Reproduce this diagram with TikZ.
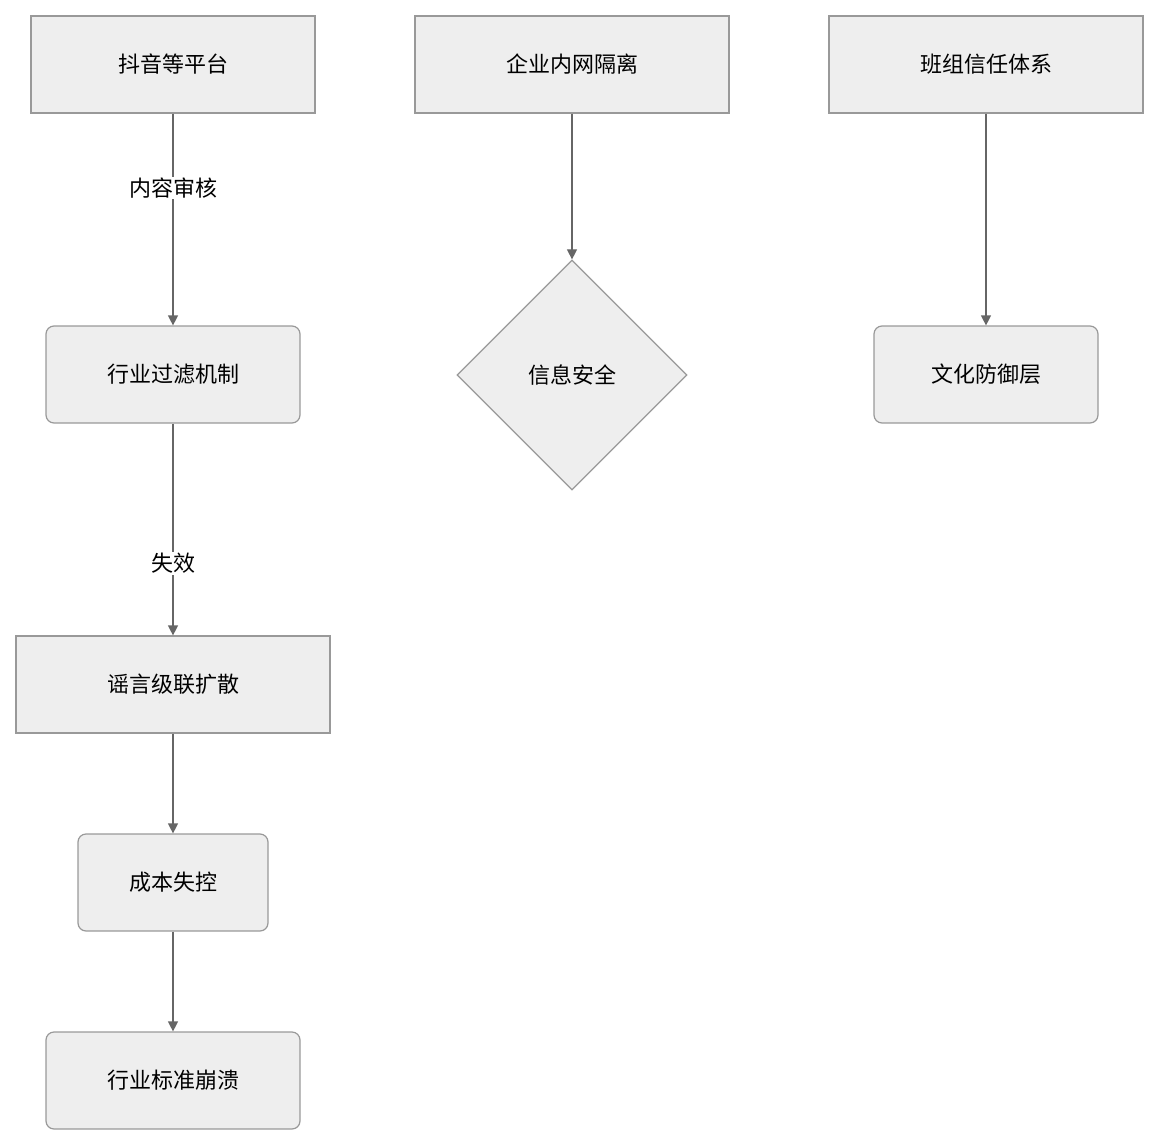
\documentclass[tikz,border=0pt]{standalone}
\usepackage{fontspec}
\setmainfont{Noto Sans CJK SC}
\usetikzlibrary{shapes.geometric,arrows.meta}
\definecolor{fillc}{HTML}{EEEEEE}
\definecolor{strokec}{HTML}{999999}
\definecolor{edgec}{HTML}{666666}
\begin{document}
\begin{tikzpicture}[x=1pt,y=-1pt,
  box/.style={draw=strokec,fill=fillc,line width=1.2pt,minimum height=97pt,inner sep=0pt,font=\fontsize{22}{26}\selectfont},
  rbox/.style={box,rounded corners=8pt},
  dia/.style={diamond,draw=strokec,fill=fillc,line width=1.2pt,minimum width=230pt,minimum height=230pt,inner sep=0pt,font=\fontsize{22}{26}\selectfont},
  arr/.style={draw=edgec,line width=1.2pt,-{Triangle[length=10pt,width=10pt]}},
  lbl/.style={fill=white,inner sep=1pt,font=\fontsize{22}{26}\selectfont}]
\useasboundingbox (0,0) rectangle (1160,1146);
\node[box,minimum width=284pt] (a) at (173,64.5) {抖音等平台};
\node[box,minimum width=314pt] (b) at (572,64.5) {企业内网隔离};
\node[box,minimum width=314pt] (c) at (986,64.5) {班组信任体系};
\node[rbox,minimum width=254pt] (d) at (173,374.5) {行业过滤机制};
\node[dia] (e) at (572,375) {信息安全};
\node[rbox,minimum width=224pt] (f) at (986,374.5) {文化防御层};
\node[box,minimum width=314pt] (g) at (173,684.5) {谣言级联扩散};
\node[rbox,minimum width=190pt] (h) at (173,882.5) {成本失控};
\node[rbox,minimum width=254pt] (i) at (173,1080.5) {行业标准崩溃};
\draw[arr] (a) -- node[lbl,pos=0.35] {内容审核} (d);
\draw[arr] (b) -- (e);
\draw[arr] (c) -- (f);
\draw[arr] (d) -- node[lbl,pos=0.66] {失效} (g);
\draw[arr] (g) -- (h);
\draw[arr] (h) -- (i);
\end{tikzpicture}
\end{document}
